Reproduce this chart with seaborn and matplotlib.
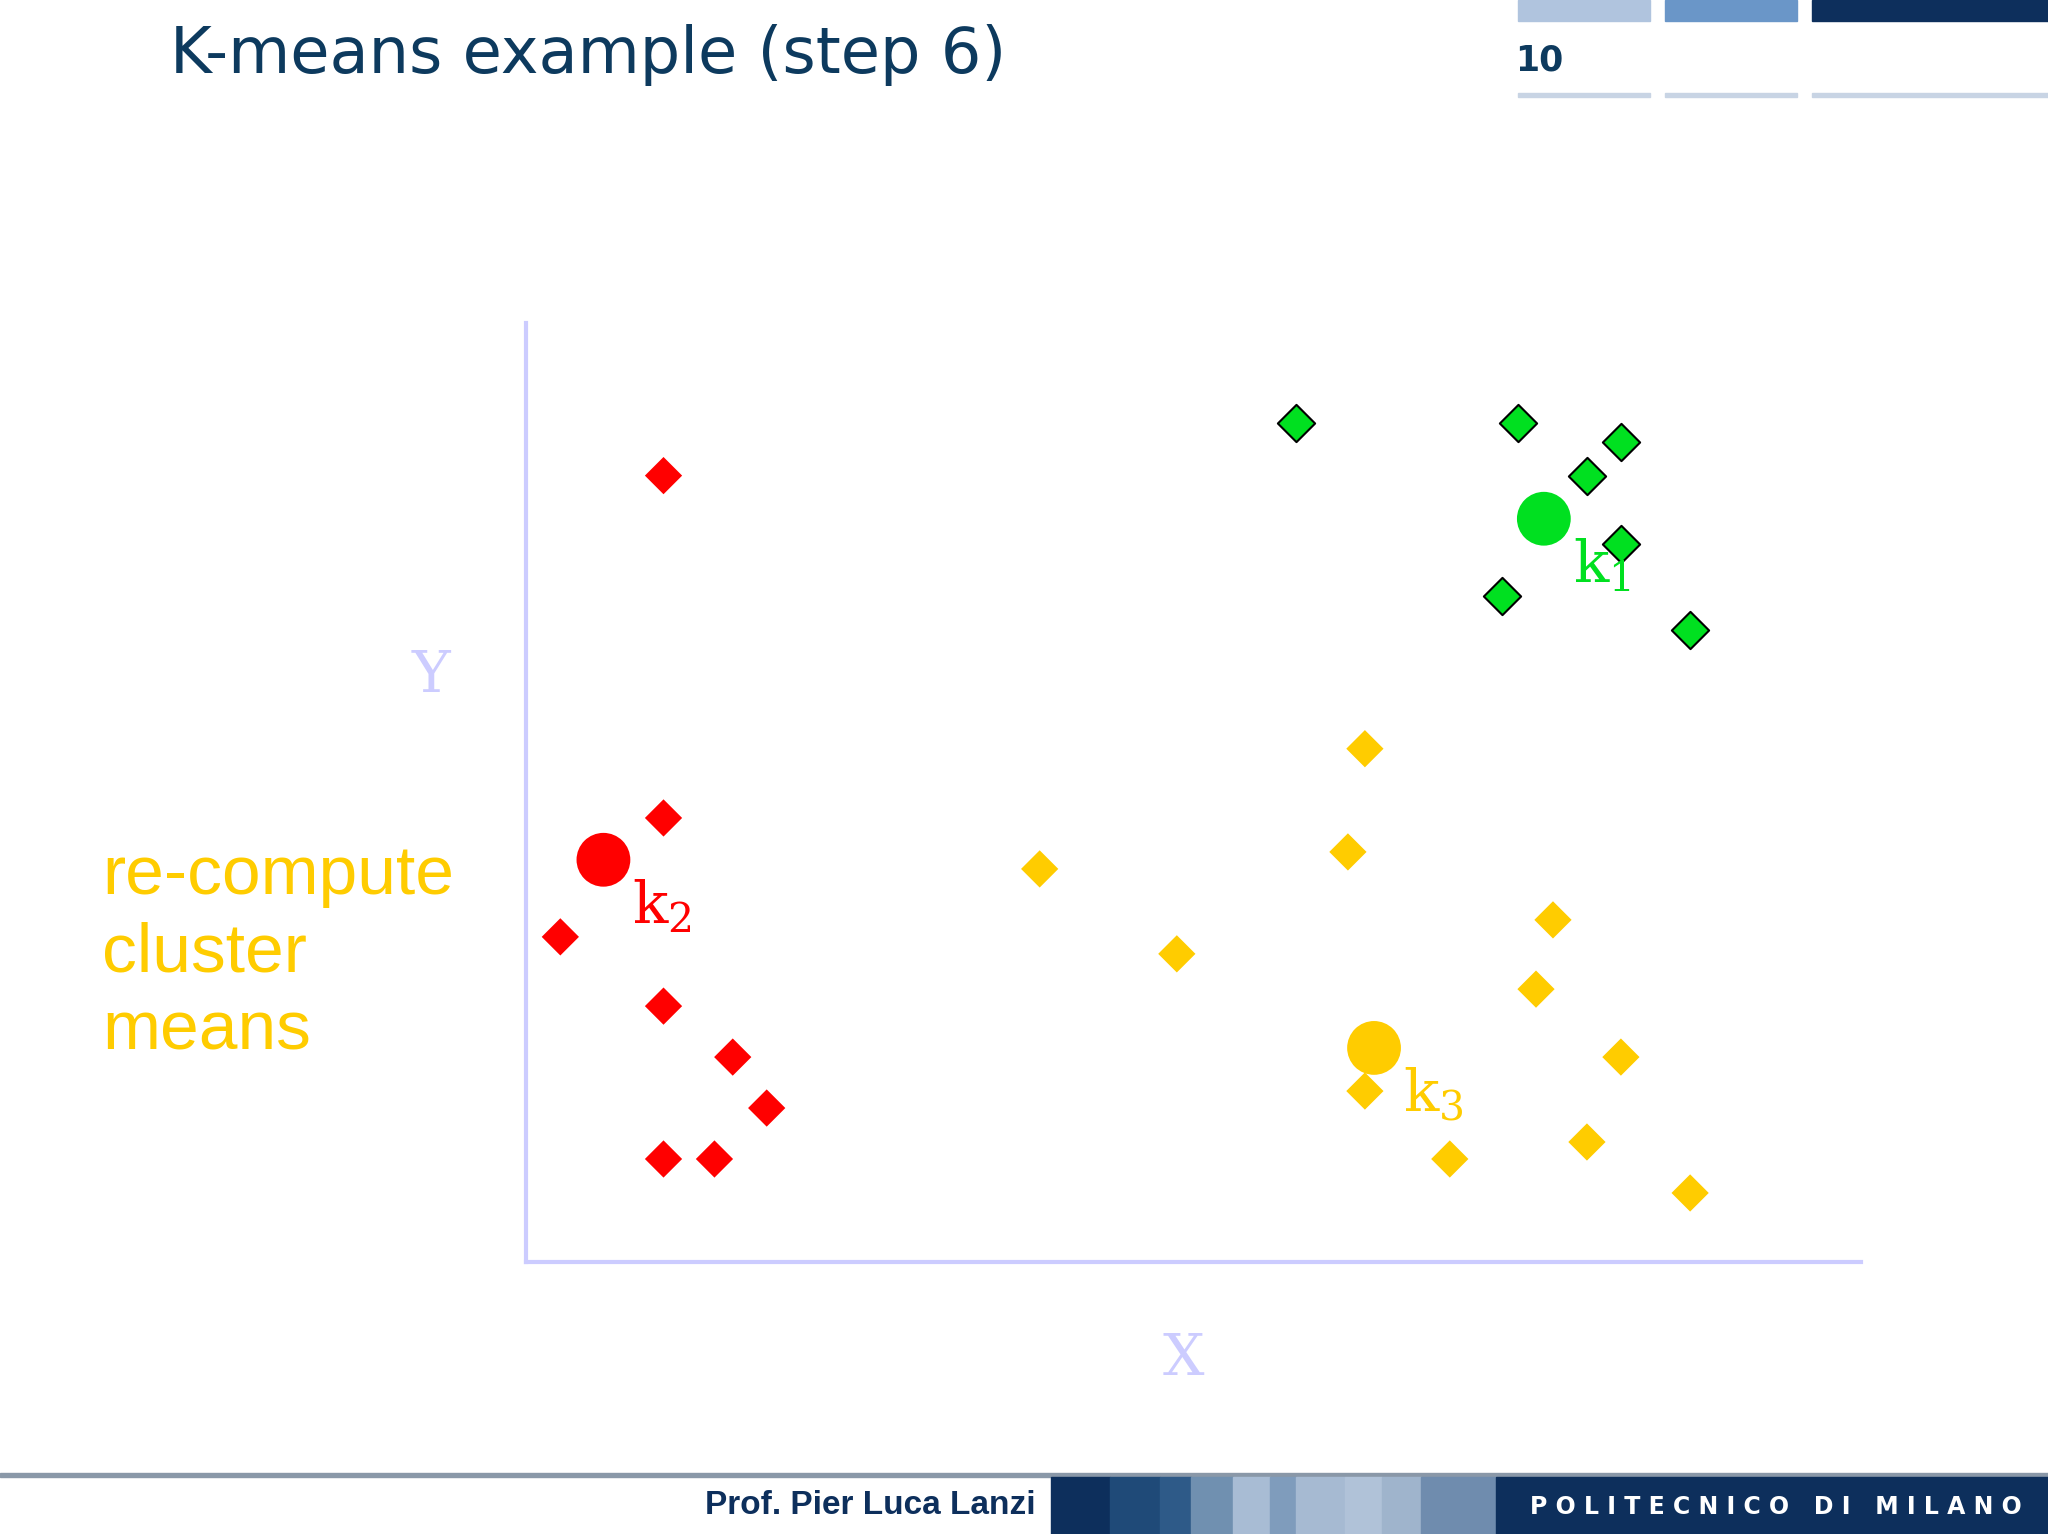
import matplotlib
matplotlib.use("Agg")
import matplotlib.pyplot as plt
import matplotlib.patches as mpatches
import seaborn as sns
import pandas as pd

# data (picture units: x right from Y axis, y up from X axis)
green_x = [589, 759, 838, 812, 838, 747, 891]
green_y = [642, 642, 628, 602, 550, 510, 484]
red_x = [105, 105, 26, 105, 158, 184, 105, 144]
red_y = [602, 340, 249, 196, 157, 118, 79, 79]
yellow_x = [642, 629, 393, 498, 786, 773, 838, 642, 707, 812, 891]
yellow_y = [393, 314, 301, 236, 262, 209, 157, 131, 79, 92, 53]
cent_x = [779, 59, 649]
cent_y = [569, 308, 164]
cent_lab = ["1", "2", "3"]
clusters = ["k1", "k2", "k3"]
colors = {"k1": "#00e020", "k2": "#ff0000", "k3": "#ffcc00"}

pts = pd.DataFrame({
    "x": green_x + red_x + yellow_x,
    "y": green_y + red_y + yellow_y,
    "c": ["k1"] * len(green_x) + ["k2"] * len(red_x) + ["k3"] * len(yellow_x),
})
cent = pd.DataFrame({"x": cent_x, "y": cent_y, "c": clusters})

plt.rcParams["mathtext.fontset"] = "dejavuserif"
fig = plt.figure(figsize=(20.48, 15.34), dpi=100)
fig.patch.set_facecolor("white")
W, H = 1568, 1174
def fx(p): return p / W
def fy(p): return 1 - p / H

ax = fig.add_axes([fx(403), fy(966), fx(1425) - fx(403), (966 - 247) / H])
ax.set_facecolor("white")
g = pts[pts.c == "k1"]
sns.scatterplot(data=g, x="x", y="y", marker="D", s=360, color=colors["k1"],
                edgecolor="black", linewidth=1.5, ax=ax, legend=False)
o = pts[pts.c != "k1"]
sns.scatterplot(data=o, x="x", y="y", hue="c", palette=colors, marker="D", s=360,
                edgecolor="none", ax=ax, legend=False)
sns.scatterplot(data=cent, x="x", y="y", hue="c", palette=colors, s=1500,
                edgecolor="none", ax=ax, legend=False)
for cx, cy, lab, c in zip(cent_x, cent_y, cent_lab, clusters):
    ax.text(cx + 22, cy - 14, r"$\mathrm{k_{%s}}$" % lab, color=colors[c],
            fontsize=42, va="top", ha="left")
ax.set_xlim(0, 1022)
ax.set_ylim(0, 719)
for s in ["top", "right"]:
    ax.spines[s].set_visible(False)
for s in ["left", "bottom"]:
    ax.spines[s].set_color("#ccccff")
    ax.spines[s].set_linewidth(3)
ax.set_xticks([]); ax.set_yticks([])
ax.set_xlabel(""); ax.set_ylabel("")

fig.text(fx(330), fy(517), "Y", color="#ccccff", fontsize=42, family="DejaVu Serif",
         ha="center", va="center")
fig.text(fx(906), fy(1040), "X", color="#ccccff", fontsize=42, family="DejaVu Serif",
         ha="center", va="center")
fig.text(fx(78), fy(730), "re-compute\ncluster\nmeans", color="#ffcc00", fontsize=50,
         family="Liberation Sans", ha="left", va="center", linespacing=1.28)

# header
fig.text(fx(130), fy(42), "K-means example (step 6)", color="#0d3a5e", fontsize=46,
         family="DejaVu Sans", ha="left", va="center")
fig.text(fx(1160), fy(46), "10", color="#0d3a5e", fontsize=25, fontweight="bold",
         family="DejaVu Sans", ha="left", va="center")
for x0, x1, c in [(1162, 1263, "#b0c4de"), (1275, 1376, "#6a96c8"), (1387, 1568, "#0d2f5c")]:
    fig.add_artist(mpatches.Rectangle((fx(x0), fy(16)), fx(x1 - x0), 16 / H,
                   transform=fig.transFigure, color=c))
    fig.add_artist(mpatches.Rectangle((fx(x0), fy(74)), fx(x1 - x0), 3 / H,
                   transform=fig.transFigure, color="#c8d4e4"))

# footer
fig.add_artist(mpatches.Rectangle((0, fy(1130)), 1, 3 / H, transform=fig.transFigure,
               color="#8a98a8"))
fig.text(fx(793), fy(1152), "Prof. Pier Luca Lanzi", color="#0d2f5c", fontsize=24,
         fontweight="bold", family="Liberation Sans", ha="right", va="center")
blocks = [(805, 850, "#0d2f5c"), (850, 888, "#1f4a78"), (888, 912, "#2e5a88"),
          (912, 944, "#7090b0"), (944, 972, "#a8bcd4"), (972, 992, "#7f9cbc"),
          (992, 1030, "#a6bad2"), (1030, 1058, "#b0c2d8"), (1058, 1088, "#9fb4cc"),
          (1088, 1145, "#6f8cae"), (1145, 1568, "#0d2f5c")]
for x0, x1, c in blocks:
    fig.add_artist(mpatches.Rectangle((fx(x0), 0), fx(x1 - x0), (1174 - 1130) / H,
                   transform=fig.transFigure, color=c))
fig.text(fx(1360), fy(1153), "P O L I T E C N I C O   D I   M I L A N O", color="white",
         fontsize=17, fontweight="bold", family="DejaVu Sans", ha="center", va="center")

fig.savefig("out.png", dpi=100, facecolor="white")
